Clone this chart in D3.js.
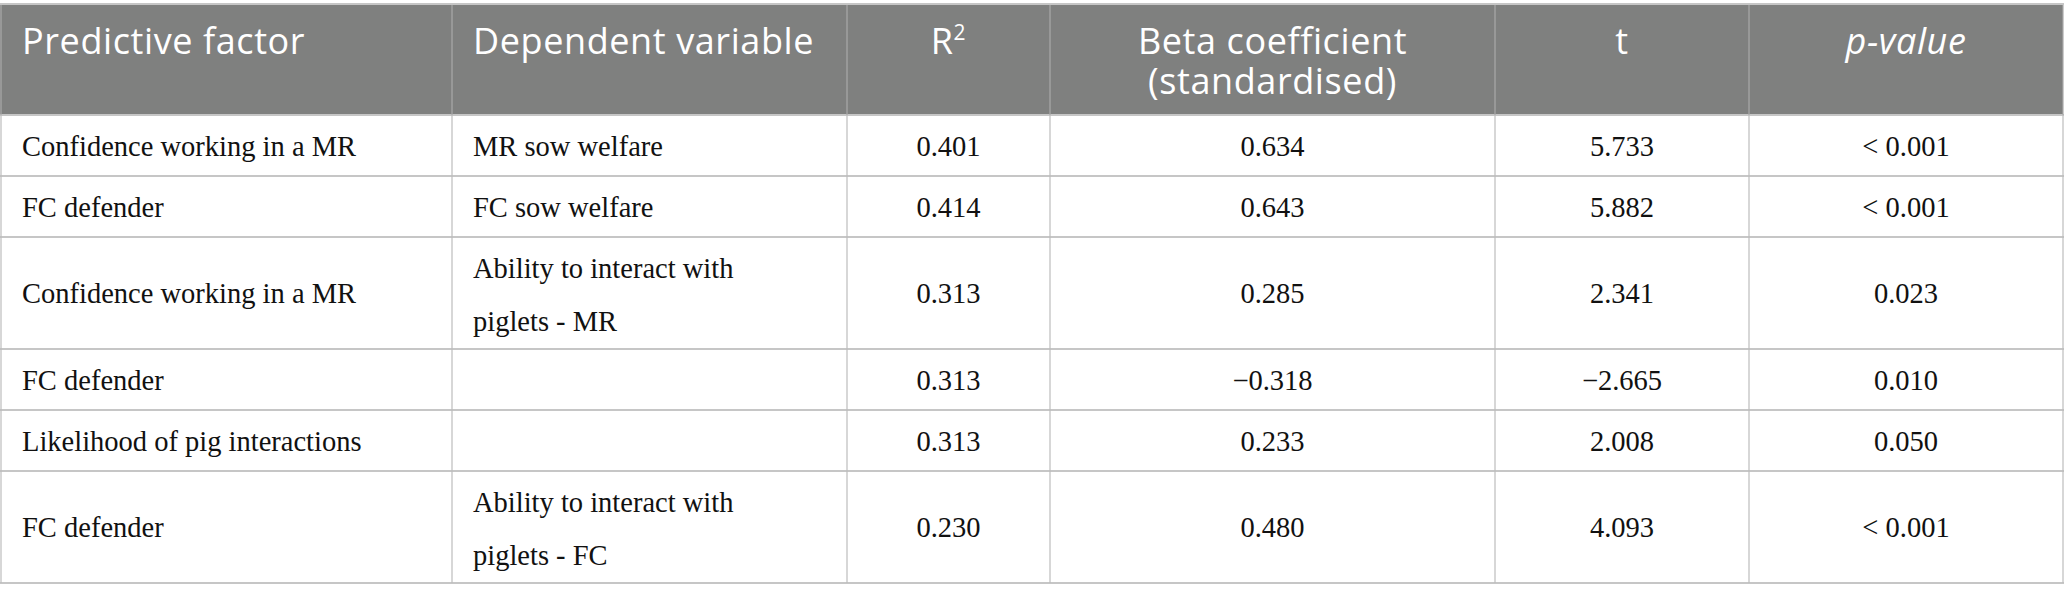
<!DOCTYPE html>
<html>
<head>
<meta charset="utf-8">
<script src="https://cdn.jsdelivr.net/npm/d3@7"></script>
<style>
  html, body { margin: 0; padding: 0; background: #fff; }
  svg { display: block; }
</style>
</head>
<body>
<svg id="table"></svg>
<script>
var width = 2065;
var height = 602;

// table content
var headers = [['Predictive factor'], ['Dependent variable'], ['R2'],
  ['Beta coefficient', '(standardised)'], ['t'], ['p-value']];
var predictors = ['Confidence working in a MR', 'FC defender', 'Confidence working in a MR',
  'FC defender', 'Likelihood of pig interactions', 'FC defender'];
var dependents = [['MR sow welfare'], ['FC sow welfare'], ['Ability to interact with', 'piglets - MR'],
  [], [], ['Ability to interact with', 'piglets - FC']];
var r2 = ['0.401', '0.414', '0.313', '0.313', '0.313', '0.230'];
var beta = ['0.634', '0.643', '0.285', '\u22120.318', '0.233', '0.480'];
var tValues = ['5.733', '5.882', '2.341', '\u22122.665', '2.008', '4.093'];
var pValues = ['< 0.001', '< 0.001', '0.023', '0.010', '0.050', '< 0.001'];

var rows = predictors.map(function(d, i) {
  return [[d], dependents[i], [r2[i]], [beta[i]], [tValues[i]], [pValues[i]]];
});

var colEdges = [1, 452, 847, 1050, 1495, 1749, 2063];
var colIndex = d3.range(headers.length);
var xLeft = d3.scaleOrdinal().domain(colIndex).range(colEdges.slice(0, -1));
var xRight = d3.scaleOrdinal().domain(colIndex).range(colEdges.slice(1));
var leftAligned = function(c) { return c < 2; };

var tableTop = 4;
var headerBottom = 115;
var rowHeights = rows.map(function(r) {
  var lines = d3.max(r, function(c) { return c.length; });
  return lines > 1 ? 112 : 61;
});
var rowEdges = [headerBottom];
rowHeights.forEach(function(h) { rowEdges.push(rowEdges[rowEdges.length - 1] + h); });
var yTop = d3.scaleOrdinal().domain(d3.range(rows.length)).range(rowEdges.slice(0, -1));
var yBottom = d3.scaleOrdinal().domain(d3.range(rows.length)).range(rowEdges.slice(1));

var svg = d3.select('#table')
    .attr('width', width)
    .attr('height', height);

// header band
svg.append('rect')
    .attr('x', 0)
    .attr('y', tableTop)
    .attr('width', colEdges[colEdges.length - 1])
    .attr('height', headerBottom - tableTop)
    .attr('fill', '#7f807f');

function textX(c) {
  return leftAligned(c) ? xLeft(c) + 21 : (xLeft(c) + xRight(c)) / 2;
}

// header labels, one text per cell, extra lines as tspans
var head = svg.append('g')
    .attr('font-family', '"Open Sans", Lato, sans-serif')
    .attr('font-size', 36)
    .attr('letter-spacing', 0.6)
    .attr('fill', '#ffffff');

headers.forEach(function(lines, c) {
  var t = head.append('text')
      .attr('x', textX(c))
      .attr('y', 54)
      .attr('text-anchor', leftAligned(c) ? 'start' : 'middle');
  lines.forEach(function(line, k) {
    if (line === 'R2') {
      t.append('tspan').text('R');
      t.append('tspan').attr('font-size', 21).attr('dy', -14).text('2');
    } else if (line === 'p-value') {
      t.attr('font-style', 'italic').text(line);
    } else {
      t.append('tspan')
          .attr('x', textX(c))
          .attr('dy', k === 0 ? 0 : 40)
          .text(line);
    }
  });
});

// body text
var body = svg.append('g')
    .attr('font-family', '"Liberation Serif", "Times New Roman", serif')
    .attr('font-size', 28.5)
    .attr('fill', '#111111');

rows.forEach(function(r, i) {
  var mid = (yTop(i) + yBottom(i)) / 2;
  r.forEach(function(lines, c) {
    if (!lines.length) return;
    var t = body.append('text')
        .attr('x', textX(c))
        .attr('y', lines.length > 1 ? mid - 15 : mid + 10)
        .attr('text-anchor', leftAligned(c) ? 'start' : 'middle');
    lines.forEach(function(line, k) {
      t.append('tspan')
          .attr('x', textX(c))
          .attr('dy', k === 0 ? 0 : 53)
          .text(line);
    });
  });
});

// grid lines
var grid = svg.append('g');

grid.selectAll('line.h')
    .data([tableTop].concat(rowEdges))
    .enter().append('line')
    .attr('class', 'h')
    .attr('x1', 0)
    .attr('x2', colEdges[colEdges.length - 1] + 1)
    .attr('y1', function(d) { return d; })
    .attr('y2', function(d) { return d; })
    .attr('stroke', '#c6c6c6')
    .attr('stroke-width', 2);

// vertical lines in header are lighter on grey
grid.selectAll('line.vh')
    .data(colEdges)
    .enter().append('line')
    .attr('class', 'vh')
    .attr('x1', function(d) { return d; })
    .attr('x2', function(d) { return d; })
    .attr('y1', tableTop + 1)
    .attr('y2', headerBottom)
    .attr('stroke', '#a9a9a9')
    .attr('stroke-width', 1.2);

grid.selectAll('line.vb')
    .data(colEdges)
    .enter().append('line')
    .attr('class', 'vb')
    .attr('x1', function(d) { return d; })
    .attr('x2', function(d) { return d; })
    .attr('y1', headerBottom)
    .attr('y2', rowEdges[rowEdges.length - 1])
    .attr('stroke', '#bdbdbd')
    .attr('stroke-width', 1.2);
</script>
</body>
</html>
